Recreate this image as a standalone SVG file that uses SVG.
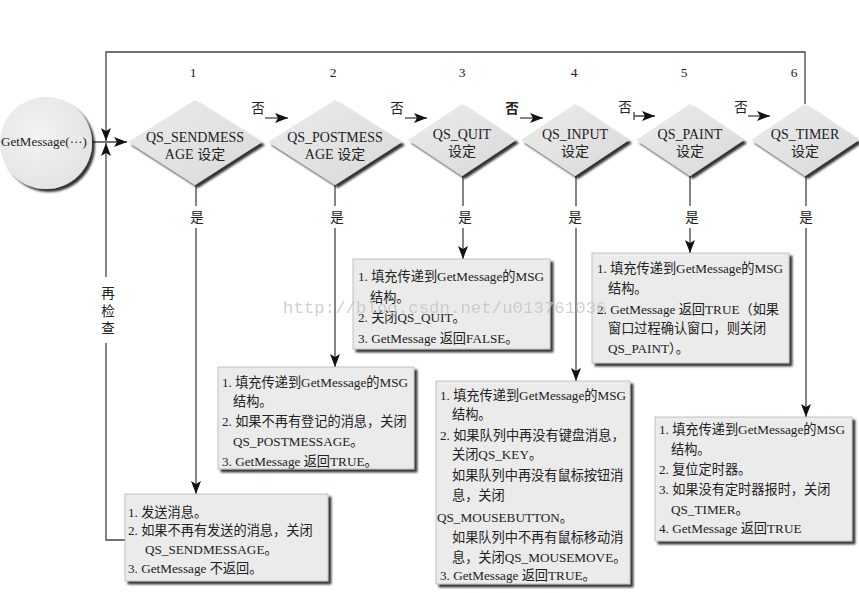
<svg xmlns="http://www.w3.org/2000/svg" width="859" height="593" viewBox="0 0 859 593">
<style>
text{font-family:"Liberation Serif","Noto Sans CJK SC",serif;fill:#222;}
.t{font-size:13.2px;}
.d{font-size:14px;text-anchor:middle;}
.n{font-size:13.5px;text-anchor:middle;}
.c{fill:none;stroke:#444;stroke-width:1.3;}
.box{fill:#ebebeb;stroke:#b5b5b5;stroke-width:0.8;}
.dia{fill:url(#dg);}
.wm{font-family:"Liberation Mono",monospace;font-size:17.4px;fill:#c4c4c4;opacity:0.8;}
</style>
<defs>
<linearGradient id="dg" x1="0" y1="0" x2="1" y2="1">
<stop offset="0" stop-color="#ececec"/>
<stop offset="1" stop-color="#d9d9d9"/>
</linearGradient>
<radialGradient id="cg" cx="0.4" cy="0.4" r="0.7">
<stop offset="0" stop-color="#f3f3f3"/>
<stop offset="1" stop-color="#e2e2e2"/>
</radialGradient>
<filter id="sh" x="-10%" y="-10%" width="130%" height="130%">
<feGaussianBlur in="SourceAlpha" stdDeviation="1.2"/>
<feOffset dx="2.5" dy="3" result="o"/>
<feComponentTransfer><feFuncA type="linear" slope="0.8"/></feComponentTransfer>
<feMerge><feMergeNode/><feMergeNode in="SourceGraphic"/></feMerge>
</filter>
<marker id="ah" markerWidth="14" markerHeight="10" refX="13" refY="5" orient="auto" markerUnits="userSpaceOnUse">
<path d="M0,0 L13,5 L0,10 L3,5 z" fill="#111"/>
</marker>
</defs>

<g id="connectors">
<path class="c" d="M93,142 H127" marker-end="url(#ah)"/>
<path class="c" d="M805,104 V52 H106 V141" marker-end="url(#ah)"/>
<path class="c" d="M125,540 H106 V343"/>
<path class="c" d="M106,277 V143" marker-end="url(#ah)"/>
<path class="c" d="M265,118 H288" marker-end="url(#ah)"/>
<path class="c" d="M405,118 H427" marker-end="url(#ah)"/>
<path class="c" d="M520,118 H543" marker-end="url(#ah)"/>
<path class="c" d="M634,112 V120 M634,116 H655" marker-end="url(#ah)"/>
<path class="c" d="M748,116 H770" marker-end="url(#ah)"/>
<path class="c" d="M196,185 V206 M196,228 V494" marker-end="url(#ah)"/>
<path class="c" d="M335,185 V206 M335,228 V367" marker-end="url(#ah)"/>
<path class="c" d="M463,176 V206 M463,228 V259" marker-end="url(#ah)"/>
<path class="c" d="M576,176 V206 M576,228 V381" marker-end="url(#ah)"/>
<path class="c" d="M690,176 V206 M690,228 V253" marker-end="url(#ah)"/>
<path class="c" d="M806,176 V206 M806,228 V417" marker-end="url(#ah)"/>
<text class="n" x="258" y="113">否</text>
<text class="n" x="397" y="113">否</text>
<text class="n" x="512" y="113" style="font-weight:bold">否</text>
<text class="n" x="625" y="112">否</text>
<text class="n" x="741" y="112">否</text>
<text class="n" x="197" y="222">是</text>
<text class="n" x="337" y="222">是</text>
<text class="n" x="465" y="222">是</text>
<text class="n" x="575" y="222">是</text>
<text class="n" x="692" y="222">是</text>
<text class="n" x="806" y="222">是</text>
<text class="n" x="108" y="298">再</text>
<text class="n" x="108" y="316">检</text>
<text class="n" x="108" y="333">查</text>
</g>

<g id="start">
<circle cx="46" cy="143" r="46" fill="url(#cg)" filter="url(#sh)"/>
<text x="44" y="146" text-anchor="middle" style="font-size:13px">GetMessage(···)</text>
</g>

<g id="num">
<text class="n" x="193" y="77">1</text>
<text class="n" x="333" y="77">2</text>
<text class="n" x="462" y="77">3</text>
<text class="n" x="574" y="77">4</text>
<text class="n" x="684" y="77">5</text>
<text class="n" x="794" y="77">6</text>
</g>

<g id="d1">
<polygon class="dia" points="195,100 262,142 195,185 128,142" filter="url(#sh)"/>
<text class="d" x="195" y="142">QS_SENDMESS</text>
<text class="d" x="195" y="159">AGE 设定</text>
</g>
<g id="d2">
<polygon class="dia" points="335,100 402,142 335,185 268,142" filter="url(#sh)"/>
<text class="d" x="335" y="142">QS_POSTMESS</text>
<text class="d" x="335" y="159">AGE 设定</text>
</g>
<g id="d3">
<polygon class="dia" points="462,104 516,140 462,176 408,140" filter="url(#sh)"/>
<text class="d" x="462" y="139">QS_QUIT</text>
<text class="d" x="462" y="156">设定</text>
</g>
<g id="d4">
<polygon class="dia" points="575,104 629,140 575,176 521,140" filter="url(#sh)"/>
<text class="d" x="575" y="139">QS_INPUT</text>
<text class="d" x="575" y="156">设定</text>
</g>
<g id="d5">
<polygon class="dia" points="690,104 744,140 690,176 636,140" filter="url(#sh)"/>
<text class="d" x="690" y="139">QS_PAINT</text>
<text class="d" x="690" y="156">设定</text>
</g>
<g id="d6">
<polygon class="dia" points="805,104 859,140 805,176 751,140" filter="url(#sh)"/>
<text class="d" x="805" y="139">QS_TIMER</text>
<text class="d" x="805" y="156">设定</text>
</g>

<g id="b1">
<rect class="box" x="125" y="494" width="203" height="87" filter="url(#sh)"/>
<text class="t" x="128" y="517">1. 发送消息。</text>
<text class="t" x="128" y="535">2. 如果不再有发送的消息，关闭</text>
<text class="t" x="145" y="554">QS_SENDMESSAGE。</text>
<text class="t" x="128" y="573">3. GetMessage 不返回。</text>
</g>
<g id="b2">
<rect class="box" x="218" y="367" width="196" height="102" filter="url(#sh)"/>
<text class="t" x="222" y="387">1. 填充传递到GetMessage的MSG</text>
<text class="t" x="233" y="406">结构。</text>
<text class="t" x="222" y="426">2. 如果不再有登记的消息，关闭</text>
<text class="t" x="233" y="446">QS_POSTMESSAGE。</text>
<text class="t" x="222" y="466">3. GetMessage 返回TRUE。</text>
</g>
<g id="b3">
<rect class="box" x="353" y="259" width="197" height="90" filter="url(#sh)"/>
<text class="t" x="358" y="281">1. 填充传递到GetMessage的MSG</text>
<text class="t" x="370" y="302">结构。</text>
<text class="t" x="358" y="322">2. 关闭QS_QUIT。</text>
<text class="t" x="358" y="343">3. GetMessage 返回FALSE。</text>
</g>
<g id="b4">
<rect class="box" x="436" y="381" width="194" height="203" filter="url(#sh)"/>
<text class="t" x="440" y="400">1. 填充传递到GetMessage的MSG</text>
<text class="t" x="452" y="419">结构。</text>
<text class="t" x="440" y="440">2. 如果队列中再没有键盘消息，</text>
<text class="t" x="452" y="459">关闭QS_KEY。</text>
<text class="t" x="452" y="480">如果队列中再没有鼠标按钮消</text>
<text class="t" x="452" y="500">息，关闭</text>
<text class="t" x="437" y="522">QS_MOUSEBUTTON。</text>
<text class="t" x="452" y="542">如果队列中不再有鼠标移动消</text>
<text class="t" x="452" y="562">息，关闭QS_MOUSEMOVE。</text>
<text class="t" x="440" y="580">3. GetMessage 返回TRUE。</text>
</g>
<g id="b5">
<rect class="box" x="592" y="253" width="197" height="110" filter="url(#sh)"/>
<text class="t" x="597" y="273">1. 填充传递到GetMessage的MSG</text>
<text class="t" x="608" y="293">结构。</text>
<text class="t" x="597" y="314">2. GetMessage 返回TRUE（如果</text>
<text class="t" x="608" y="333">窗口过程确认窗口，则关闭</text>
<text class="t" x="608" y="353">QS_PAINT）。</text>
</g>
<g id="b6">
<rect class="box" x="655" y="417" width="197" height="124" filter="url(#sh)"/>
<text class="t" x="659" y="434">1. 填充传递到GetMessage的MSG</text>
<text class="t" x="671" y="454">结构。</text>
<text class="t" x="659" y="474">2. 复位定时器。</text>
<text class="t" x="659" y="494">3. 如果没有定时器报时，关闭</text>
<text class="t" x="671" y="514">QS_TIMER。</text>
<text class="t" x="659" y="533">4. GetMessage 返回TRUE</text>
</g>

<text class="wm" x="283" y="313">http://blog.csdn.net/u013761036</text>
</svg>
